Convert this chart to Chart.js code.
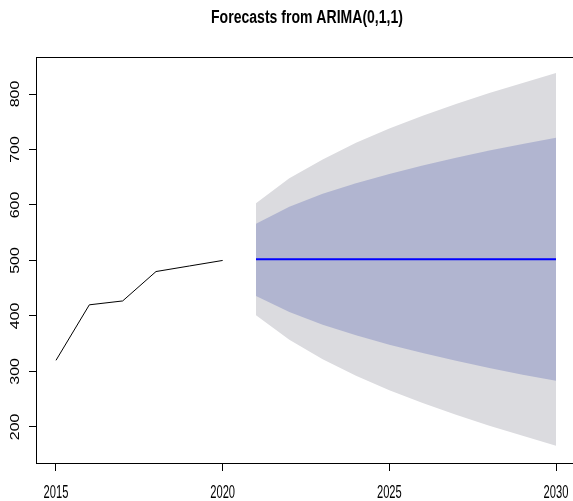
<!DOCTYPE html>
<html>
<head>
<meta charset="utf-8">
<script src="https://cdn.jsdelivr.net/npm/chart.js@4"></script>
<style>
  html, body { margin: 0; padding: 0; background: #fff; }
  #wrap { width: 573px; height: 501px; }
</style>
</head>
<body>
<div id="wrap"><canvas id="myChart" width="573" height="501"></canvas></div>
<script>
// observed series
const years = [2015, 2016, 2017, 2018, 2019, 2020];
const values = [320, 420, 427, 480, 490, 500];

// forecast
const fYears = [2021, 2022, 2023, 2024, 2025, 2026, 2027, 2028, 2029, 2030];
const fMean = [502, 502, 502, 502, 502, 502, 502, 502, 502, 502];
const hi95 = [603, 648, 682, 712, 738, 761, 782, 802, 820, 838];
const hi80 = [566, 597, 620, 639, 656, 671, 685, 698, 710, 721];
const lo80 = [436, 407, 384, 365, 348, 333, 319, 306, 294, 283];
const lo95 = [401, 357, 322, 292, 266, 243, 222, 202, 184, 166];

const xTicks = [2015, 2020, 2025, 2030];
const yTicks = [200, 300, 400, 500, 600, 700, 800];
const title = 'Forecasts from ARIMA(0,1,1)';

const pts = (xs, ys) => xs.map((x, i) => ({ x: x, y: ys[i] }));

// squeezed text, the original was squashed sideways
function narrowText(ctx, txt, x, y, sx, rot) {
    ctx.save();
    ctx.translate(x, y);
    ctx.scale(sx, 1);
    if (rot) ctx.rotate(rot);
    ctx.fillText(txt, 0, 0);
    ctx.restore();
}

const boxPlugin = {
    id: 'box',
    afterDraw(chart) {
        const ctx = chart.ctx;
        const a = chart.chartArea;
        const xs = chart.scales.x;
        const ys = chart.scales.y;
        ctx.save();
        ctx.strokeStyle = '#000';
        ctx.lineWidth = 1;
        ctx.strokeRect(a.left + 0.5, a.top + 0.5, a.right - a.left, a.bottom - a.top);

        ctx.fillStyle = '#000';
        ctx.textAlign = 'center';
        ctx.textBaseline = 'middle';

        // y labels, rotated like R does
        ctx.font = '16px "Liberation Sans"';
        yTicks.forEach(v => {
            narrowText(ctx, String(v), 16, ys.getPixelForValue(v), 0.78, -Math.PI / 2);
        });

        // x labels
        ctx.font = '18px "Liberation Sans"';
        xTicks.forEach(v => {
            narrowText(ctx, String(v), xs.getPixelForValue(v), 493, 0.62);
        });

        // title
        ctx.font = 'bold 18px "Liberation Sans"';
        narrowText(ctx, title, 307, 18, 0.78);
        ctx.restore();
    }
};

const ctx = document.getElementById('myChart').getContext('2d');
const myChart = new Chart(ctx, {
    type: 'line',
    data: {
        datasets: [
            {
                label: 'hi95',
                data: pts(fYears, hi95),
                borderWidth: 0,
                pointRadius: 0,
                backgroundColor: 'rgb(219, 219, 223)',
                fill: 1,
                order: 5
            },
            {
                label: 'lo95',
                data: pts(fYears, lo95),
                borderWidth: 0,
                pointRadius: 0,
                fill: false,
                order: 5
            },
            {
                label: 'hi80',
                data: pts(fYears, hi80),
                borderWidth: 0,
                pointRadius: 0,
                backgroundColor: 'rgb(177, 181, 208)',
                fill: 3,
                order: 4
            },
            {
                label: 'lo80',
                data: pts(fYears, lo80),
                borderWidth: 0,
                pointRadius: 0,
                fill: false,
                order: 4
            },
            {
                label: 'mean',
                data: pts(fYears, fMean),
                borderColor: '#0000ff',
                borderWidth: 2,
                pointRadius: 0,
                fill: false,
                order: 1
            },
            {
                label: 'observed',
                data: pts(years, values),
                borderColor: '#000',
                borderWidth: 1,
                pointRadius: 0,
                fill: false,
                order: 1
            }
        ]
    },
    options: {
        responsive: false,
        animation: false,
        layout: { padding: { top: 57, left: 0, right: 0, bottom: 0 } },
        plugins: {
            legend: { display: false },
            title: { display: false },
            tooltip: { enabled: false }
        },
        elements: { line: { tension: 0 } },
        scales: {
            x: {
                type: 'linear',
                min: 2014.4,
                max: 2030.51,
                afterBuildTicks: (s) => { s.ticks = xTicks.map(v => ({ value: v })); },
                afterFit: (s) => { s.height = 38; },
                grid: { drawOnChartArea: false, tickLength: 8, color: '#000' },
                border: { display: false },
                ticks: { display: false }
            },
            y: {
                min: 134.9,
                max: 866.7,
                afterBuildTicks: (s) => { s.ticks = yTicks.map(v => ({ value: v })); },
                afterFit: (s) => { s.width = 36; },
                grid: { drawOnChartArea: false, tickLength: 7, color: '#000' },
                border: { display: false },
                ticks: { display: false }
            }
        }
    },
    plugins: [boxPlugin]
});
</script>
</body>
</html>
